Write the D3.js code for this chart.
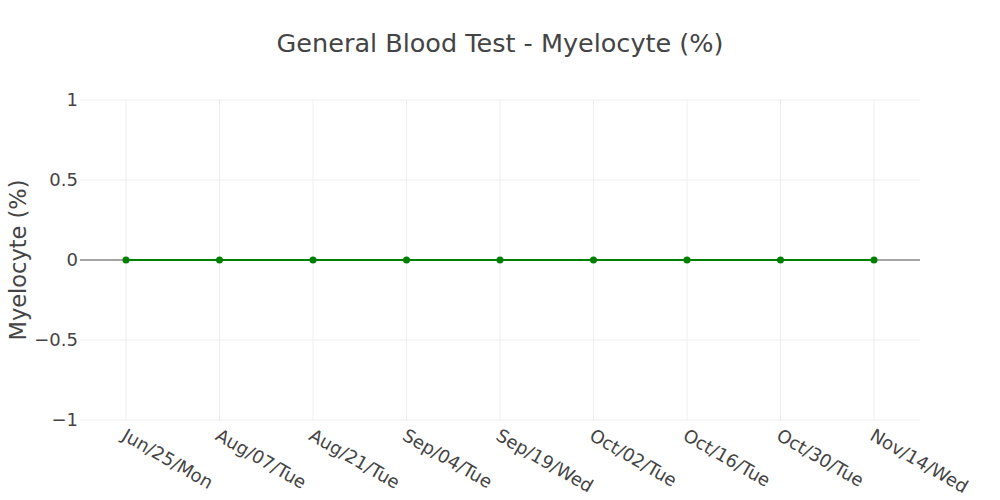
<!DOCTYPE html>
<meta charset="utf-8">
<style>
body { margin: 0; }
text { font-family: "DejaVu Sans", Verdana, sans-serif; fill: #444; }
</style>
<body>
<script src="https://cdnjs.cloudflare.com/ajax/libs/d3/7.8.5/d3.min.js"></script>
<script>

var dates = ["Jun/25/Mon", "Aug/07/Tue", "Aug/21/Tue", "Sep/04/Tue", "Sep/19/Wed",
             "Oct/02/Tue", "Oct/16/Tue", "Oct/30/Tue", "Nov/14/Wed"];
var values = [0, 0, 0, 0, 0, 0, 0, 0, 0];
var yTicks = [-1, -0.5, 0, 0.5, 1];

var width = 1000,
    height = 500,
    margin = {left: 80, right: 80, top: 100, bottom: 80};

var svg = d3.select("body").append("svg")
    .attr("width", width)
    .attr("height", height);

var pad = 46 / 93.5;
var x = d3.scaleLinear()
    .domain([-pad, dates.length - 1 + pad])
    .range([margin.left, width - margin.right]);

var y = d3.scaleLinear()
    .domain([-1, 1])
    .range([height - margin.bottom, margin.top]);

// grid
svg.append("g").selectAll("line")
    .data(dates)
  .enter().append("line")
    .attr("x1", function(d, i) { return x(i); })
    .attr("x2", function(d, i) { return x(i); })
    .attr("y1", margin.top)
    .attr("y2", height - margin.bottom)
    .attr("stroke", "#eee");

svg.append("g").selectAll("line")
    .data(yTicks.filter(function(d) { return d !== 0; }))
  .enter().append("line")
    .attr("x1", margin.left)
    .attr("x2", width - margin.right)
    .attr("y1", y)
    .attr("y2", y)
    .attr("stroke", "#eee");

// zero line
svg.append("line")
    .attr("x1", margin.left)
    .attr("x2", width - margin.right)
    .attr("y1", y(0))
    .attr("y2", y(0))
    .attr("stroke", "#a4a4a4")
    .attr("stroke-width", 2);

// y axis labels
svg.append("g").selectAll("text")
    .data(yTicks)
  .enter().append("text")
    .attr("x", margin.left - 2)
    .attr("y", y)
    .attr("dy", "0.35em")
    .attr("text-anchor", "end")
    .style("font-size", "18px")
    .text(function(d) { return d < 0 ? "\u2212" + Math.abs(d) : d; });

// x axis labels
svg.append("g").selectAll("text")
    .data(dates)
  .enter().append("text")
    .attr("transform", function(d, i) {
      return "translate(" + (x(i) + 1) + "," + (height - margin.bottom + 8) + ") rotate(30)";
    })
    .attr("dy", "0.7em")
    .style("font-size", "18px")
    .text(function(d) { return d; });

// series
var line = d3.line()
    .x(function(d, i) { return x(i); })
    .y(function(d) { return y(d); });

svg.append("path")
    .datum(values)
    .attr("d", line)
    .attr("fill", "none")
    .attr("stroke", "green")
    .attr("stroke-width", 2);

svg.append("g").selectAll("circle")
    .data(values)
  .enter().append("circle")
    .attr("cx", function(d, i) { return x(i); })
    .attr("cy", y)
    .attr("r", 3.5)
    .attr("fill", "green");

// titles
svg.append("text")
    .attr("x", width / 2)
    .attr("y", 52)
    .attr("text-anchor", "middle")
    .style("font-size", "25.5px")
    .text("General Blood Test - Myelocyte (%)");

svg.append("text")
    .attr("transform", "translate(26," + y(0) + ") rotate(-90)")
    .attr("text-anchor", "middle")
    .style("font-size", "22.5px")
    .text("Myelocyte (%)");

</script>
